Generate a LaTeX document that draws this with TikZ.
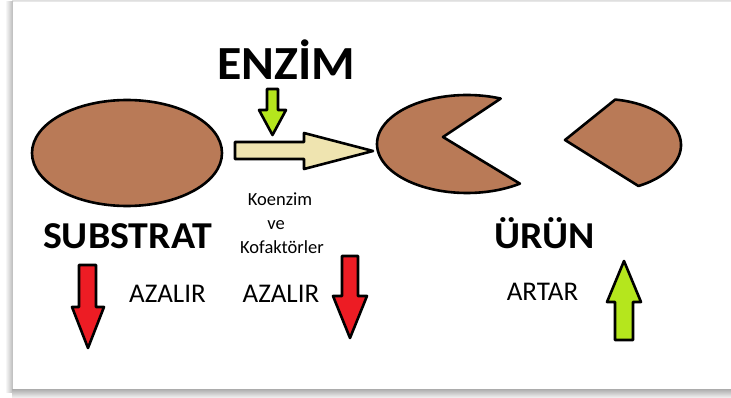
\documentclass[tikz,border=0pt]{standalone}
\usepackage{fontspec}
\setmainfont{Carlito}
\definecolor{brownfill}{RGB}{185,122,87}
\definecolor{beigefill}{RGB}{239,228,176}
\definecolor{limefill}{RGB}{181,230,29}
\definecolor{redfill}{RGB}{237,28,36}
\tikzset{
  outl/.style={draw=black, line width=2.6pt, line join=round},
  bigtitle/.style={anchor=base, inner sep=0pt, font=\bfseries\fontsize{47.5}{50}\selectfont},
  midtitle/.style={anchor=base, inner sep=0pt, font=\bfseries\fontsize{38}{40}\selectfont},
  smalltxt/.style={anchor=base, inner sep=0pt, font=\fontsize{18.5}{22}\selectfont},
  medtxt/.style={anchor=base, inner sep=0pt, font=\fontsize{27}{30}\selectfont}
}
\begin{document}
\begin{tikzpicture}[x=1pt,y=-1pt]
\useasboundingbox (0,0) rectangle (731,398);
% card frame
\fill[white] (0,0) rectangle (731,398);
\shade[top color=gray!25, bottom color=gray!10] (12,0) rectangle (731,2.5);
\shade[left color=white, right color=gray!55] (5,2) rectangle (13,392);
\shade[top color=gray!65, bottom color=gray!8] (12,389) rectangle (731,398);
\fill[white] (13,2.5) rectangle (731,389);
% substrate
\draw[outl, fill=brownfill] (127,153) ellipse [x radius=95, y radius=53];
% reaction arrow
\draw[outl, fill=beigefill] (235,142) -- (304,142) -- (304,133) -- (373,151) -- (304,169) -- (304,159) -- (235,159) -- cycle;
% enzyme arrow
\draw[outl, fill=limefill] (267,89) -- (278,89) -- (278,110) -- (286,110) -- (272.5,135) -- (259,110) -- (267,110) -- cycle;
% products
\draw[outl, fill=brownfill] (443,137) -- plot[domain=54:292, samples=90] ({467+90*cos(\x)},{144+49*sin(\x)}) -- cycle;
\draw[outl, fill=brownfill] (565,140) -- plot[domain=-81:63, samples=60] ({603+78*cos(\x)},{145+46*sin(\x)}) -- cycle;
% red arrows
\draw[outl, fill=redfill] (79,265) -- (96,265) -- (96,307) -- (104,307) -- (88,348) -- (72,307) -- (79,307) -- cycle;
\draw[outl, fill=redfill] (342,256) -- (358,256) -- (358,296) -- (367,296) -- (350,338) -- (333,296) -- (342,296) -- cycle;
% green up arrow
\draw[outl, fill=limefill] (615,340) -- (633,340) -- (633,302) -- (641,302) -- (624,261) -- (607,302) -- (615,302) -- cycle;
% texts
\node[bigtitle] (enzim) at (286,80) {\scalebox{1.05}[1]{ENZİM}};
\node[midtitle] (substrat) at (127.5,249) {\scalebox{1.05}[1]{SUBSTRAT}};
\node[midtitle] (urun) at (544.5,249) {\scalebox{1.05}[1]{ÜRÜN}};
\node[smalltxt] (koenzim) at (280,206) {Koenzim};
\node[smalltxt] (ve) at (276,230) {ve};
\node[smalltxt] (kofaktor) at (282,254) {Kofaktörler};
\node[medtxt] (azalir1) at (167.5,302) {AZALIR};
\node[medtxt] (azalir2) at (281,302) {AZALIR};
\node[medtxt] (artar) at (542.5,300) {ARTAR};
\end{tikzpicture}
\end{document}
